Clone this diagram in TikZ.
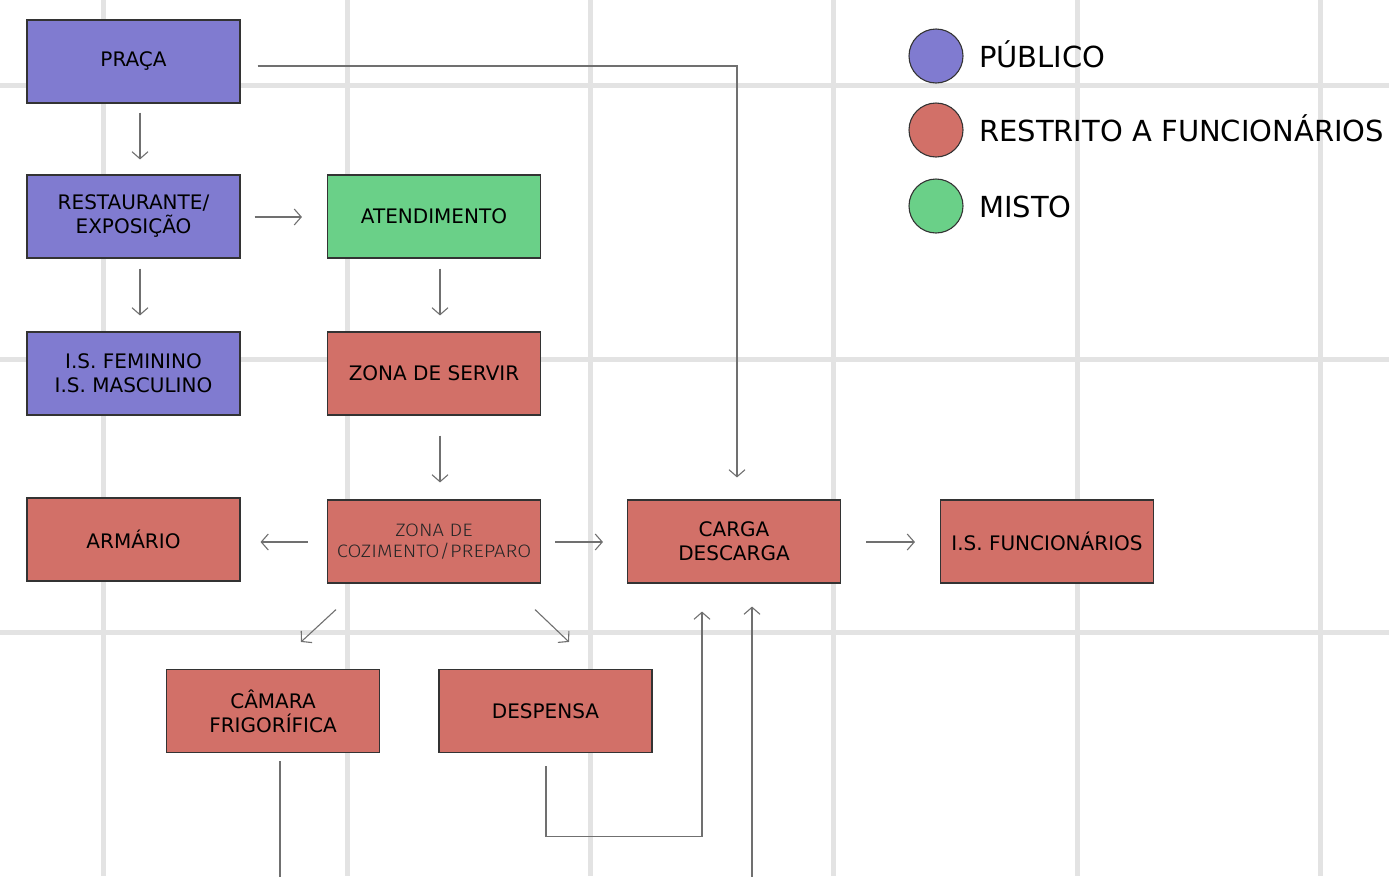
\documentclass[tikz,border=0pt]{standalone}
\usepackage{fontspec}
\setmainfont{DejaVu Sans}
\newfontfamily\thinfont[FakeStretch=1.12]{Fira Sans Light}
\usetikzlibrary{arrows.meta}
\definecolor{pub}{HTML}{807BD0}
\definecolor{res}{HTML}{D27068}
\definecolor{mis}{HTML}{6AD088}
\definecolor{gridc}{HTML}{E3E3E3}
\definecolor{arrc}{HTML}{707070}
\begin{document}
\begin{tikzpicture}[x=1pt,y=-1pt,
  box/.style={draw=black!80, line width=1.1pt, minimum width=213pt, minimum height=83pt, inner sep=0pt, align=center, font=\fontsize{20}{24}\selectfont},
  conn/.style={draw=arrc, line width=1.1pt, -{Straight Barb[length=7pt,width=16pt,line width=1.1pt]}},
  plainline/.style={draw=arrc, line width=1.1pt},
  legdot/.style={circle, draw=black!80, line width=1.1pt, minimum size=54pt, inner sep=0pt},
  legtxt/.style={anchor=base west, inner sep=0pt, font=\fontsize{29}{34}\selectfont}]
\useasboundingbox (0,0) rectangle (1389,876);
\fill[white] (0,0) rectangle (1389,876);
\foreach \gx in {103,347,590,833,1077,1320} \draw[gridc, line width=5pt] (\gx,0) -- (\gx,876);
\foreach \gy in {85,359,632} \draw[gridc, line width=5pt] (0,\gy) -- (1389,\gy);

\node[box, fill=pub] (praca) at (133.5,61.5) {PRAÇA};
\node[box, fill=pub] (rest) at (133.5,216.5) {RESTAURANTE/\\EXPOSIÇÃO};
\node[box, fill=mis] (atend) at (434,216.5) {ATENDIMENTO};
\node[box, fill=pub] (isfm) at (133.5,373.5) {I.S. FEMININO\\I.S. MASCULINO};
\node[box, fill=res] (servir) at (434,373.5) {ZONA DE SERVIR};
\node[box, fill=res] (armario) at (133.5,539.5) {ARMÁRIO};
\node[box, fill=res, font=\thinfont\fontsize{18}{21}\selectfont, text=black!85] (coz) at (434,541.5) {ZONA DE\\COZIMENTO/PREPARO};
\node[box, fill=res] (carga) at (734,541.5) {CARGA\\DESCARGA};
\node[box, fill=res] (isf) at (1047,541.5) {I.S. FUNCIONÁRIOS};
\node[box, fill=res] (camara) at (273,711) {CÂMARA\\FRIGORÍFICA};
\node[box, fill=res] (despensa) at (545.5,711) {DESPENSA};

\draw[conn, shorten <=9pt, shorten >=15pt] ([xshift=6.5pt]praca.south) -- ([xshift=6.5pt]rest.north);
\draw[conn, shorten <=14pt, shorten >=25pt] ([yshift=-0.5pt]rest.east) -- ([yshift=-0.5pt]atend.west);
\draw[conn, shorten <=10pt, shorten >=16pt] ([xshift=6.5pt]rest.south) -- ([xshift=6.5pt]isfm.north);
\draw[conn, shorten <=10pt, shorten >=16pt] ([xshift=6pt]atend.south) -- ([xshift=6pt]servir.north);
\draw[conn, shorten <=20pt, shorten >=17pt] ([xshift=6pt]servir.south) -- ([xshift=6pt]coz.north);
\draw[conn, shorten <=19pt, shorten >=20pt] ([yshift=-0.5pt]coz.west) -- ([yshift=-0.5pt]coz.west -| armario.east);
\draw[conn, shorten <=14pt, shorten >=24pt] ([yshift=-0.5pt]coz.east) -- ([yshift=-0.5pt]carga.west);
\draw[conn, shorten <=25pt, shorten >=25pt] ([yshift=-0.5pt]carga.east) -- ([yshift=-0.5pt]isf.west);
\draw[conn, shorten <=17pt, shorten >=22pt] ([yshift=-4.5pt]praca.east) -| ([xshift=3pt]carga.north);
\draw[conn] ([shift={(-98pt,-26pt)}]coz.south) -- ([shift={(28pt,27pt)}]camara.north);
\draw[conn] ([shift={(101pt,-26pt)}]coz.south) -- ([shift={(23.5pt,27pt)}]despensa.north);
\draw[conn] ([shift={(0.5pt,-13pt)}]despensa.south) -- ++(0,70) -| ([shift={(-32pt,-28pt)}]carga.south);
\coordinate (bot) at (752,880);
\draw[conn] (bot) -- ([shift={(18pt,-23pt)}]carga.south);
\draw[plainline] ([shift={(7pt,-8pt)}]camara.south) -- ++(0,130);

\node[legdot, fill=pub] (lp) at (936,56) {};
\node[legdot, fill=res] (lr) at (936,130) {};
\node[legdot, fill=mis] (lm) at (936,206) {};
\node[legtxt] (lpt) at (979,67) {PÚBLICO};
\node[legtxt] (lrt) at (979,141) {RESTRITO A FUNCIONÁRIOS};
\node[legtxt] (lmt) at (979,217) {MISTO};
\end{tikzpicture}
\end{document}
